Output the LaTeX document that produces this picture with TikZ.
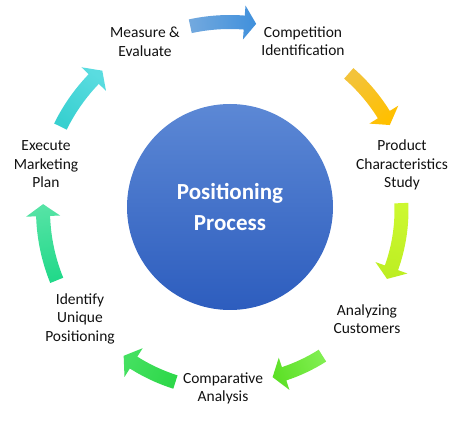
\documentclass[tikz,border=0pt]{standalone}
\usepackage{fontspec}
\setmainfont{Carlito}
\definecolor{txt}{HTML}{111111}
\definecolor{cirtop}{HTML}{5C88D5}
\definecolor{cirbot}{HTML}{2D5DBE}
\definecolor{aAt}{HTML}{73A9DE}\definecolor{aAh}{HTML}{4090DC}
\definecolor{aBt}{HTML}{F3C33A}\definecolor{aBh}{HTML}{FFC000}
\definecolor{aCt}{HTML}{CCF830}\definecolor{aCh}{HTML}{BDEE22}
\definecolor{aDt}{HTML}{80EE50}\definecolor{aDh}{HTML}{5CE026}
\definecolor{aEt}{HTML}{2ED84A}\definecolor{aEh}{HTML}{44E060}
\definecolor{aFt}{HTML}{22D98A}\definecolor{aFh}{HTML}{55E3A5}
\definecolor{aGt}{HTML}{38D0D0}\definecolor{aGh}{HTML}{5ADCE0}
% #1 tail angle, #2 tip angle, #3 radius, #4 tail colour, #5 head colour
\newcommand{\cyclearrow}[5]{%
  \pgfmathsetmacro\cab{#2+12/#3*57.2958}%
  \pgfmathsetmacro\cro{#3+7}%
  \pgfmathsetmacro\cri{#3-7}%
  \pgfmathsetmacro\cho{#3+17}%
  \pgfmathsetmacro\chi{#3-17}%
  \pgfmathsetmacro\cang{(#1+#2)/2-180}%
  \shade[top color=#5, bottom color=#4, shading angle=\cang]
    (#1:\cro pt) arc[start angle=#1, end angle=\cab, radius=\cro pt]
    -- (\cab:\cho pt) -- (#2:#3pt) -- (\cab:\chi pt) -- (\cab:\cri pt)
    arc[start angle=\cab, end angle=#1, radius=\cri pt] -- cycle;}
\tikzset{
  lbl/.style={align=center, inner sep=0pt, text=txt,
    font=\fontsize{15.5}{18.5}\selectfont},
  core/.style={circle, minimum size=206pt, inner sep=0pt,
    top color=cirtop, bottom color=cirbot, text=white, align=center,
    font=\fontsize{23}{31}\selectfont\bfseries}
}
\begin{document}
\begin{tikzpicture}[x=1pt,y=1pt]
\useasboundingbox (0,0) rectangle (469,421);
\node[core] (pp) at (230,214) {Positioning\\Process};
\begin{scope}[shift={(230pt,211pt)}]
  \cyclearrow{102.2}{82}{188}{aAt}{aAh}
  \cyclearrow{49}{28}{181}{aBt}{aBh}
  \cyclearrow{2.3}{-23.7}{171.5}{aCt}{aCh}
  \cyclearrow{-57.6}{-75.7}{172.5}{aDt}{aDh}
  \cyclearrow{-107.6}{-126.1}{180.5}{aEt}{aEh}
  \cyclearrow{-157.9}{-181.8}{187}{aFt}{aFh}
  \cyclearrow{153.8}{132.5}{189}{aGt}{aGh}
\end{scope}
\node[lbl] (s1) at (145,379) {Measure \&\\Evaluate};
\node[lbl] (s2) at (303,380) {Competition\\Identification};
\node[lbl] (s3) at (402,256) {Product\\Characteristics\\Study};
\node[lbl] (s4) at (367,102) {Analyzing\\Customers};
\node[lbl] (s5) at (223,32.5) {Comparative\\Analysis};
\node[lbl] (s6) at (80,102.5) {Identify\\Unique\\Positioning};
\node[lbl] (s7) at (46,256.5) {Execute\\Marketing\\Plan};
\end{tikzpicture}
\end{document}
